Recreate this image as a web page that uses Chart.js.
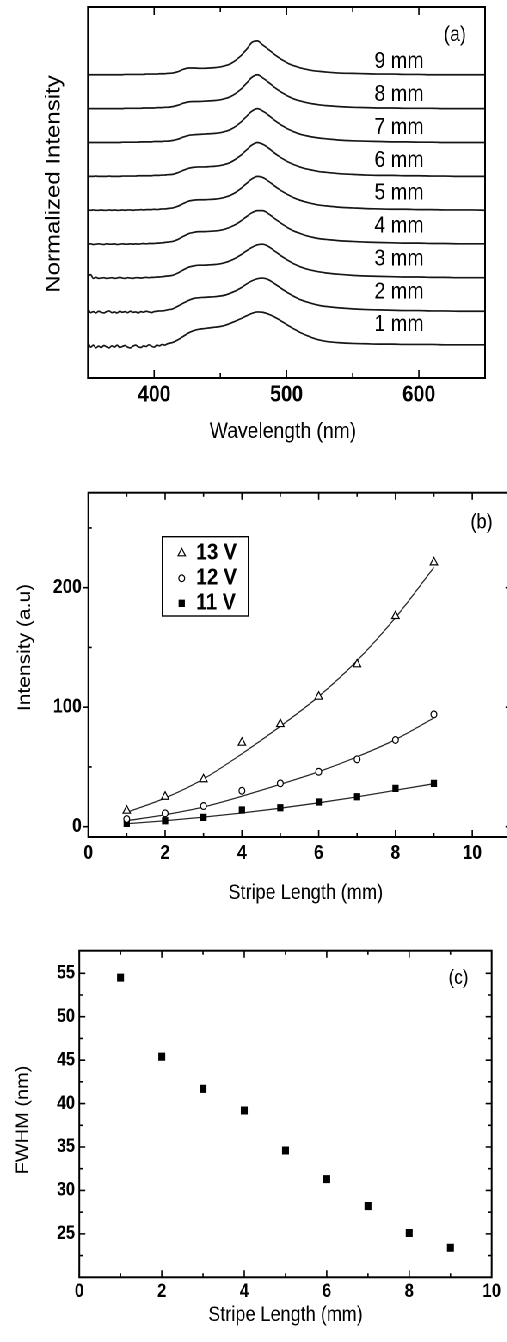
<!DOCTYPE html>
<html>
<head>
<meta charset="utf-8">
<script src="https://cdn.jsdelivr.net/npm/chart.js@4/dist/chart.umd.min.js"></script>
<style>
  html, body { margin: 0; padding: 0; background: #fff; overflow: hidden; width: 507px; height: 1342px; }
  #fig { position: absolute; left: 0; top: 0; width: 600px; height: 1342px; transform: scaleX(0.86); transform-origin: 0 0; }
  #fig canvas { position: absolute; left: 0; }
</style>
</head>
<body>
<div id="fig">
  <canvas id="spectra" width="600" height="450" style="top:0"></canvas>
  <canvas id="intensity" width="600" height="460" style="top:450px"></canvas>
  <canvas id="fwhm" width="600" height="432" style="top:910px"></canvas>
</div>
<script>
// (a) normalized emission spectra, one per stripe length, stacked by 1 unit
const wavelengths = [350,352,354,356,358,360,362,364,366,368,370,372,374,376,378,380,382,384,386,388,390,392,394,396,398,400,402,404,406,408,410,
  414,418,422,426,430,434,438,442,446,450,
  454,458,462,466,470,474,478,482,486,490,
  494,498,502,506,510,515,520,525,530,540,
  550,560,570,580,590,600,610,620,630,640,650];

const mm1 = [0.12,-0.04,0.02,-0.06,-0.01,-0.05,0.01,-0.03,-0.06,0,-0.04,0.02,-0.05,-0.02,0.01,-0.04,-0.06,-0.01,0.02,-0.03,-0.05,0,-0.02,0.03,-0.01,-0.04,0.02,0,0.04,0.02,0.06,
  0.10,0.18,0.28,0.38,0.45,0.49,0.51,0.53,0.55,0.57,
  0.61,0.67,0.74,0.81,0.89,0.96,1.00,0.99,0.94,0.87,
  0.78,0.68,0.58,0.49,0.40,0.31,0.23,0.17,0.13,0.09,
  0.07,0.06,0.05,0.05,0.04,0.04,0.04,0.03,0.03,0.03,0.03];
const mm2 = [0.10,-0.02,0.01,-0.03,0.02,-0.01,-0.03,0.01,0.03,-0.02,0,-0.03,0.02,-0.01,0.01,-0.02,0.02,-0.01,0,-0.03,0.01,-0.01,0.02,0,-0.02,0.01,0.02,0.03,0.03,0.04,0.06,
  0.09,0.17,0.26,0.34,0.40,0.42,0.43,0.44,0.45,0.47,
  0.50,0.56,0.63,0.72,0.83,0.92,0.98,1.00,0.96,0.86,
  0.75,0.64,0.54,0.45,0.37,0.30,0.24,0.19,0.16,0.12,
  0.09,0.07,0.06,0.05,0.04,0.04,0.03,0.03,0.02,0.02,0.02];
const mm3 = [0.04,0.10,-0.01,0.02,-0.01,0,0.01,-0.01,0,0.01,-0.01,0,0.02,0,-0.01,0.01,0,-0.01,0.01,0.01,0,0.01,0.02,0.01,0.02,0.02,0.03,0.03,0.04,0.05,0.06,
  0.08,0.15,0.24,0.32,0.36,0.38,0.38,0.39,0.40,0.42,
  0.46,0.52,0.60,0.70,0.81,0.91,0.98,1.00,0.94,0.83,
  0.71,0.60,0.50,0.41,0.34,0.27,0.22,0.18,0.15,0.11,
  0.08,0.06,0.05,0.04,0.03,0.03,0.02,0.02,0.01,0.01,0.01];
const mm4 = [0,0.01,-0.01,0,0.01,0,-0.01,0.01,0,0,0.01,-0.01,0,0.01,0,0,0.01,0,0.01,0,0.01,0.02,0.01,0.02,0.02,0.02,0.03,0.03,0.04,0.05,0.06,
  0.08,0.14,0.23,0.31,0.35,0.37,0.37,0.38,0.39,0.41,
  0.45,0.51,0.59,0.70,0.82,0.93,0.99,0.99,0.91,0.79,
  0.67,0.56,0.46,0.38,0.32,0.25,0.20,0.16,0.14,0.10,
  0.08,0.06,0.05,0.04,0.03,0.03,0.02,0.02,0.01,0.01,0.01];
const mm5 = [0.01,0,0.01,0,0,0.01,0,0,0.01,0,0.01,0,0,0.01,0,0.01,0.01,0,0.01,0.01,0.02,0.01,0.02,0.02,0.02,0.03,0.02,0.03,0.04,0.04,0.05,
  0.07,0.12,0.20,0.27,0.30,0.31,0.31,0.32,0.33,0.35,
  0.39,0.45,0.54,0.66,0.80,0.93,1.00,0.97,0.87,0.75,
  0.63,0.53,0.44,0.36,0.30,0.24,0.19,0.15,0.13,0.09,
  0.07,0.05,0.04,0.03,0.03,0.02,0.02,0.01,0.01,0.01,0];
const mm6 = [0,0,0,0.01,0,0,0,0,0.01,0,0,0,0,0.01,0.01,0.01,0.01,0.01,0.01,0.02,0.02,0.02,0.02,0.02,0.02,0.03,0.03,0.03,0.04,0.04,0.05,
  0.06,0.11,0.18,0.24,0.27,0.28,0.28,0.29,0.30,0.32,
  0.36,0.42,0.52,0.64,0.79,0.93,1.00,0.95,0.85,0.72,
  0.60,0.50,0.41,0.34,0.28,0.22,0.18,0.14,0.12,0.08,
  0.06,0.04,0.03,0.03,0.02,0.02,0.01,0.01,0,0,0];
const mm7 = [0,0,0,0,0,0,0,0,0,0,0,0,0,0.01,0.01,0.01,0.01,0.01,0.01,0.01,0.02,0.02,0.02,0.02,0.02,0.03,0.03,0.03,0.03,0.04,0.04,
  0.06,0.10,0.16,0.21,0.23,0.24,0.25,0.26,0.27,0.29,
  0.33,0.39,0.49,0.62,0.78,0.93,1.00,0.93,0.82,0.69,
  0.57,0.47,0.38,0.31,0.25,0.20,0.16,0.13,0.11,0.07,
  0.05,0.04,0.03,0.02,0.02,0.01,0.01,0,0,0,0];
const mm8 = [0,0,0,0,0,0,0,0,0,0,0,0,0,0,0.01,0.01,0.01,0.01,0.01,0.01,0.01,0.02,0.02,0.02,0.02,0.02,0.03,0.03,0.03,0.04,0.04,
  0.06,0.10,0.16,0.20,0.21,0.21,0.22,0.23,0.24,0.26,
  0.30,0.36,0.46,0.59,0.76,0.93,1.00,0.91,0.79,0.66,
  0.54,0.44,0.35,0.28,0.23,0.18,0.14,0.11,0.09,0.06,
  0.04,0.03,0.02,0.02,0.01,0.01,0.01,0,0,0,0];
const mm9 = [0,0,0,0,0,0,0,0,0,0,0,0,0,0,0.01,0.01,0.01,0.01,0.01,0.01,0.01,0.01,0.02,0.02,0.02,0.02,0.02,0.03,0.03,0.03,0.04,
  0.05,0.09,0.16,0.20,0.20,0.19,0.19,0.20,0.21,0.23,
  0.27,0.33,0.44,0.58,0.76,0.96,1.00,0.88,0.76,0.63,
  0.51,0.41,0.32,0.26,0.21,0.16,0.12,0.10,0.08,0.05,
  0.04,0.03,0.02,0.02,0.01,0.01,0,0,0,0,0];
const spectra = [mm1, mm2, mm3, mm4, mm5, mm6, mm7, mm8, mm9];
const stripeLabels = ['1 mm', '2 mm', '3 mm', '4 mm', '5 mm', '6 mm', '7 mm', '8 mm', '9 mm'];

// (b) peak intensity vs stripe length for three drive voltages, with fitted curves
const stripeLength = [1, 2, 3, 4, 5, 6, 7, 8, 9];
const voltages = ['13 V', '12 V', '11 V'];
const int13 = [13.4, 25.1, 39.7, 70.3, 85.9, 108.8, 135.9, 176.3, 221.2];
const int12 = [6.4, 11.2, 17.3, 30.1, 36.3, 46.0, 56.4, 72.6, 94.0];
const int11 = [2.8, 5.0, 7.8, 14.0, 15.9, 20.7, 25.1, 32.1, 36.3];
const fit13 = [12, 24, 40, 61, 84, 109, 139, 175, 217];
const fit12 = [5, 10, 16.5, 25.5, 35.5, 46, 58.5, 73, 91];
const fit11 = [2.5, 5, 8, 11.5, 15.5, 20, 25, 30.5, 36];

// (c) linewidth vs stripe length
const fwhm = [54.5, 45.4, 41.7, 39.2, 34.6, 31.3, 28.2, 25.1, 23.4];

const FONT = 'Arial, "Liberation Sans", Helvetica, sans-serif';
const INK = '#000';

function text(ctx, str, x, y, size, opts = {}) {
  ctx.save();
  ctx.font = `${opts.bold ? 'bold ' : ''}${size}px ${FONT}`;
  ctx.fillStyle = INK;
  ctx.textAlign = opts.align || 'center';
  ctx.textBaseline = 'middle';
  ctx.translate(x, y);
  if (opts.rotate) ctx.rotate(opts.rotate);
  ctx.fillText(str, 0, 0);
  ctx.restore();
}

function steps(from, to, step, len, out) {
  const list = [];
  for (let v = from; v <= to + 1e-9; v += step) list.push([v, len, out]);
  return list;
}

// box, tick marks, tick labels and titles, all placed through the chart's scales
function framePlugin(spec) {
  return {
    id: 'frame',
    afterDatasetsDraw(chart) {
      const { ctx, chartArea: a, scales: { x, y } } = chart;
      ctx.save();
      ctx.strokeStyle = INK;
      ctx.lineWidth = 2;
      ctx.strokeRect(a.left, a.top, a.right - a.left, a.bottom - a.top);
      ctx.lineWidth = 1.6;
      ctx.beginPath();
      spec.xTicks.forEach(([v, len]) => {
        const px = x.getPixelForValue(v);
        ctx.moveTo(px, a.bottom); ctx.lineTo(px, a.bottom - len);
        ctx.moveTo(px, a.top); ctx.lineTo(px, a.top + len);
      });
      (spec.yTicks || []).forEach(([v, len, out]) => {
        const py = y.getPixelForValue(v);
        ctx.moveTo(a.left, py); ctx.lineTo(out ? a.left - len : a.left + len, py);
        ctx.moveTo(a.right, py); ctx.lineTo(a.right - len, py);
      });
      ctx.stroke();
      ctx.restore();

      spec.xLabels.forEach(v => text(ctx, String(v), x.getPixelForValue(v), spec.xLabelY, spec.tickSize, { bold: true }));
      (spec.yLabels || []).forEach(v => text(ctx, String(v), spec.yLabelX, y.getPixelForValue(v), spec.tickSize, { bold: true, align: 'right' }));
      text(ctx, spec.xTitle, spec.xTitleX, spec.xTitleY, spec.titleSize);
      text(ctx, spec.yTitle, spec.yTitleX, spec.yTitleY, spec.yTitleSize, { rotate: -Math.PI / 2 });
      text(ctx, spec.tag, spec.tagX, spec.tagY, spec.tagSize);
      if (spec.extra) spec.extra(chart);
    }
  };
}

function baseOptions(padding, xr, yr) {
  return {
    responsive: false,
    animation: false,
    devicePixelRatio: 2,
    layout: { padding },
    plugins: { legend: { display: false }, tooltip: { enabled: false } },
    scales: {
      x: { type: 'linear', display: false, min: xr[0], max: xr[1] },
      y: { type: 'linear', display: false, min: yr[0], max: yr[1] }
    }
  };
}

// ---- (a) ----
new Chart(document.getElementById('spectra'), {
  type: 'scatter',
  data: {
    datasets: spectra.map((series, k) => ({
      data: wavelengths.map((w, i) => ({ x: w, y: k + series[i] })),
      showLine: true,
      pointRadius: 0,
      borderColor: '#161616',
      borderWidth: 1.7,
      cubicInterpolationMode: 'monotone'
    }))
  },
  options: baseOptions({ left: 102.3, right: 36, top: 7, bottom: 72 }, [350, 650], [-0.95, 10]),
  plugins: [framePlugin({
    xTicks: [...steps(400, 600, 100, 8), ...steps(450, 650, 100, 5)],
    xLabels: [400, 500, 600], xLabelY: 395, tickSize: 23,
    xTitle: 'Wavelength (nm)', xTitleX: 329, xTitleY: 432, titleSize: 22.5,
    yTitle: 'Normalized Intensity', yTitleX: 62.8, yTitleY: 184, yTitleSize: 24,
    tag: '(a)', tagX: 529, tagY: 35, tagSize: 21,
    extra(chart) {
      const { ctx, scales: { x, y } } = chart;
      stripeLabels.forEach((label, k) =>
        text(ctx, label, x.getPixelForValue(585), y.getPixelForValue(k + 0.62 - 0.03 * k), 23));
    }
  })]
});

// ---- (b) ----
const markerStyles = [
  { pointStyle: 'triangle', radius: 5, fill: '#fff' },
  { pointStyle: 'circle', radius: 3.4, fill: '#fff' },
  { pointStyle: 'rect', radius: 4.3, fill: INK }
];
const measured = [int13, int12, int11];
const fitted = [fit13, fit12, fit11];

new Chart(document.getElementById('intensity'), {
  type: 'scatter',
  data: {
    datasets: [
      ...measured.map((vals, s) => ({
        data: stripeLength.map((L, i) => ({ x: L, y: vals[i] })),
        pointStyle: markerStyles[s].pointStyle,
        pointRadius: markerStyles[s].radius,
        pointBackgroundColor: markerStyles[s].fill,
        pointBorderColor: INK,
        pointBorderWidth: 1.2
      })),
      ...fitted.map(vals => ({
        data: stripeLength.map((L, i) => ({ x: L, y: vals[i] })),
        showLine: true,
        pointRadius: 0,
        borderColor: '#2a2a2a',
        borderWidth: 1.3,
        cubicInterpolationMode: 'monotone'
      }))
    ]
  },
  options: baseOptions({ left: 102.7, right: 4.9, top: 42.7, bottom: 73 }, [0, 11], [-8.6, 279.5]),
  plugins: [framePlugin({
    xTicks: [...steps(0, 10, 2, 7), ...steps(1, 11, 2, 4)],
    yTicks: [...steps(0, 200, 100, 6, true), ...steps(50, 250, 100, 4, false)],
    xLabels: [0, 2, 4, 6, 8, 10], xLabelY: 403.3, tickSize: 20,
    yLabels: [0, 100, 200], yLabelX: 95,
    xTitle: 'Stripe Length (mm)', xTitleX: 355.5, xTitleY: 443.3, titleSize: 21,
    yTitle: 'Intensity (a.u)', yTitleX: 29, yTitleY: 197.5, yTitleSize: 21,
    tag: '(b)', tagX: 560, tagY: 72.7, tagSize: 21,
    extra(chart) {
      const { ctx } = chart;
      ctx.save();
      ctx.strokeStyle = INK;
      ctx.lineWidth = 1.4;
      ctx.strokeRect(188.7, 86.7, 100, 79.3);
      voltages.forEach((name, s) => {
        const rowY = 103.3 + s * 25;
        ctx.fillStyle = markerStyles[s].fill;
        ctx.strokeStyle = INK;
        ctx.lineWidth = 1.2;
        Chart.helpers.drawPoint(ctx, {
          pointStyle: markerStyles[s].pointStyle,
          radius: markerStyles[s].radius,
          rotation: 0,
          borderWidth: 1.2
        }, 211.3, rowY);
        text(ctx, name, 228, rowY, 23, { bold: true, align: 'left' });
      });
      ctx.restore();
    }
  })]
});

// ---- (c) ----
new Chart(document.getElementById('fwhm'), {
  type: 'scatter',
  data: {
    datasets: [{
      data: stripeLength.map((L, i) => ({ x: L, y: fwhm[i] })),
      pointStyle: 'rect',
      pointRadius: 5,
      pointBackgroundColor: INK,
      pointBorderColor: INK,
      pointBorderWidth: 1
    }]
  },
  options: baseOptions({ left: 92.2, right: 28.3, top: 40.7, bottom: 64.7 }, [0, 10], [20, 57.6]),
  plugins: [framePlugin({
    xTicks: [...steps(0, 10, 2, 7), ...steps(1, 9, 2, 4)],
    yTicks: [...steps(25, 55, 5, 7, false), ...steps(22.5, 52.5, 5, 4, false)],
    xLabels: [0, 2, 4, 6, 8, 10], xLabelY: 381.7, tickSize: 19,
    yLabels: [25, 30, 35, 40, 45, 50, 55], yLabelX: 87.2,
    xTitle: 'Stripe Length (mm)', xTitleX: 332, xTitleY: 405, titleSize: 21,
    yTitle: 'FWHM (nm)', yTitleX: 27, yTitleY: 210, yTitleSize: 20,
    tag: '(c)', tagX: 533, tagY: 68.3, tagSize: 20
  })]
});
</script>
</body>
</html>
